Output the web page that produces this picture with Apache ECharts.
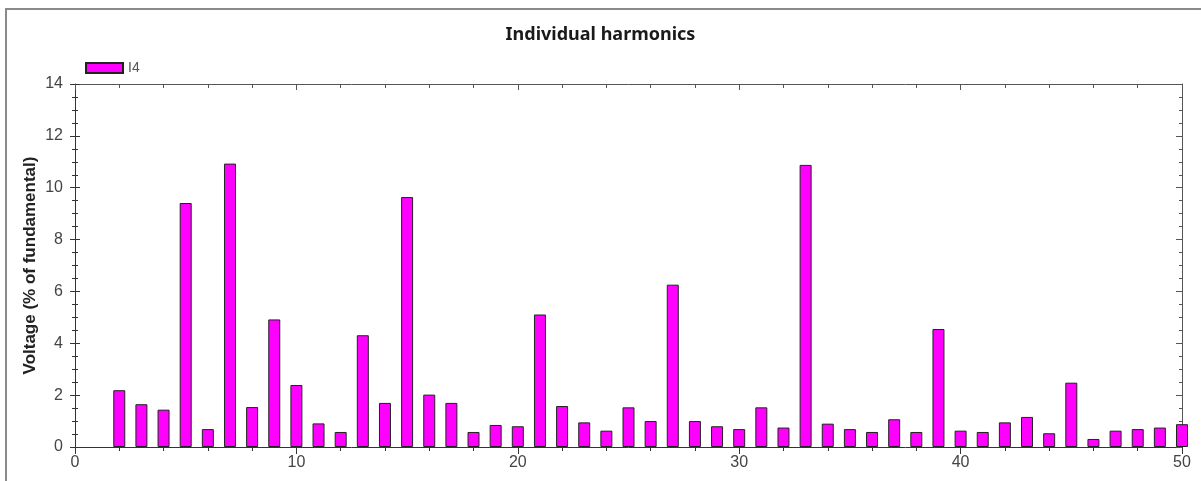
<!DOCTYPE html>
<html>
<head>
<meta charset="utf-8">
<script src="https://cdn.jsdelivr.net/npm/echarts@6/dist/echarts.min.js"></script>
<style>
  html, body { margin: 0; padding: 0; background: #fff; }
  #chart { width: 1201px; height: 481px; }
</style>
</head>
<body>
<div id="chart"></div>
<script>
// Harmonic orders and their levels (% of fundamental)
const harmonicOrders = [2, 3, 4, 5, 6, 7, 8, 9, 10, 11, 12, 13, 14, 15, 16, 17, 18, 19, 20, 21, 22, 23, 24, 25, 26,
  27, 28, 29, 30, 31, 32, 33, 34, 35, 36, 37, 38, 39, 40, 41, 42, 43, 44, 45, 46, 47, 48, 49, 50];
const i4Levels = [2.19, 1.65, 1.44, 9.41, 0.69, 10.93, 1.54, 4.92, 2.39, 0.91, 0.58, 4.31, 1.70, 9.64, 2.02, 1.70,
  0.58, 0.85, 0.80, 5.11, 1.58, 0.95, 0.63, 1.53, 1.00, 6.26, 1.00, 0.80, 0.69, 1.53, 0.75, 10.88, 0.90, 0.69,
  0.58, 1.07, 0.58, 4.55, 0.63, 0.58, 0.95, 1.16, 0.53, 2.48, 0.31, 0.63, 0.69, 0.75, 0.88];
const seriesName = 'I4';
const chartTitle = 'Individual harmonics';
const yAxisTitle = 'Voltage (% of fundamental)';

const barData = harmonicOrders.map((h, i) => [h, i4Levels[i]]);

const axisColor = '#333';
const labelFont = { color: '#444', fontSize: 16, fontFamily: 'Liberation Sans, Arial, sans-serif' };

const chart = echarts.init(document.getElementById('chart'), null, { renderer: 'canvas' });

chart.setOption({
  animation: false,
  backgroundColor: '#fff',
  title: {
    text: chartTitle,
    left: 'center',
    top: 21,
    textStyle: { fontSize: 18, fontWeight: 'bold', color: '#1a1a1a', fontFamily: 'Noto Sans, sans-serif' }
  },
  legend: {
    data: [seriesName],
    left: 80,
    top: 56,
    itemWidth: 37,
    itemHeight: 10,
    itemGap: 10,
    icon: 'rect',
    textStyle: { fontSize: 14, color: '#555', fontFamily: 'Liberation Sans, Arial, sans-serif' }
  },
  graphic: [{
    type: 'rect',
    shape: { x: 6, y: 9, width: 1200, height: 480 },
    style: { fill: 'none', stroke: '#8a8a8a', lineWidth: 2 },
    silent: true,
    z: -1
  }],
  grid: { left: 75, right: 19, top: 84, bottom: 34 },
  xAxis: [{
    type: 'value', min: 0, max: 50, interval: 10, position: 'bottom',
    axisLine: { show: true, onZero: false, lineStyle: { color: axisColor, width: 1 } },
    axisTick: { show: true, inside: false, length: 7, lineStyle: { color: axisColor } },
    minorTick: { show: true, splitNumber: 5, length: 4, lineStyle: { color: axisColor } },
    splitLine: { show: false },
    axisLabel: Object.assign({ margin: 8 }, labelFont)
  }, {
    type: 'value', min: 0, max: 50, interval: 10, position: 'top',
    axisLine: { show: true, onZero: false, lineStyle: { color: '#555', width: 1 } },
    axisTick: { show: true, inside: true, length: 6, lineStyle: { color: '#555' } },
    minorTick: { show: true, splitNumber: 5, length: 4, lineStyle: { color: '#555' } },
    splitLine: { show: false },
    axisLabel: { show: false }
  }],
  yAxis: [{
    type: 'value', min: 0, max: 14, interval: 2, position: 'left',
    name: yAxisTitle,
    nameLocation: 'middle',
    nameGap: 36,
    nameMoveOverlap: false,
    nameTextStyle: { fontSize: 17, fontWeight: 'bold', color: '#222', fontFamily: 'Liberation Sans, Arial, sans-serif' },
    axisLine: { show: true, onZero: false, lineStyle: { color: axisColor, width: 1 } },
    axisTick: { show: true, inside: false, length: 5, lineStyle: { color: axisColor } },
    minorTick: { show: true, splitNumber: 4, length: 3, lineStyle: { color: axisColor } },
    splitLine: { show: false },
    axisLabel: Object.assign({ margin: 12 }, labelFont)
  }, {
    // inner half of the crossing ticks on the left axis
    type: 'value', min: 0, max: 14, interval: 2, position: 'left',
    axisLine: { show: false },
    axisTick: { show: true, inside: true, length: 5, lineStyle: { color: axisColor } },
    minorTick: { show: true, splitNumber: 4, length: 3, lineStyle: { color: axisColor } },
    splitLine: { show: false },
    axisLabel: { show: false }
  }, {
    type: 'value', min: 0, max: 14, interval: 2, position: 'right',
    axisLine: { show: true, onZero: false, lineStyle: { color: '#555', width: 1 } },
    axisTick: { show: true, inside: true, length: 6, lineStyle: { color: '#555' } },
    minorTick: { show: true, splitNumber: 4, length: 3, lineStyle: { color: '#555' } },
    splitLine: { show: false },
    axisLabel: { show: false }
  }],
  series: [{
    name: seriesName,
    type: 'bar',
    xAxisIndex: 0,
    yAxisIndex: 0,
    data: barData,
    barWidth: 12,
    clip: true,
    itemStyle: { color: '#ff00ff', borderColor: '#222', borderWidth: 1 }
  }]
});
</script>
</body>
</html>
